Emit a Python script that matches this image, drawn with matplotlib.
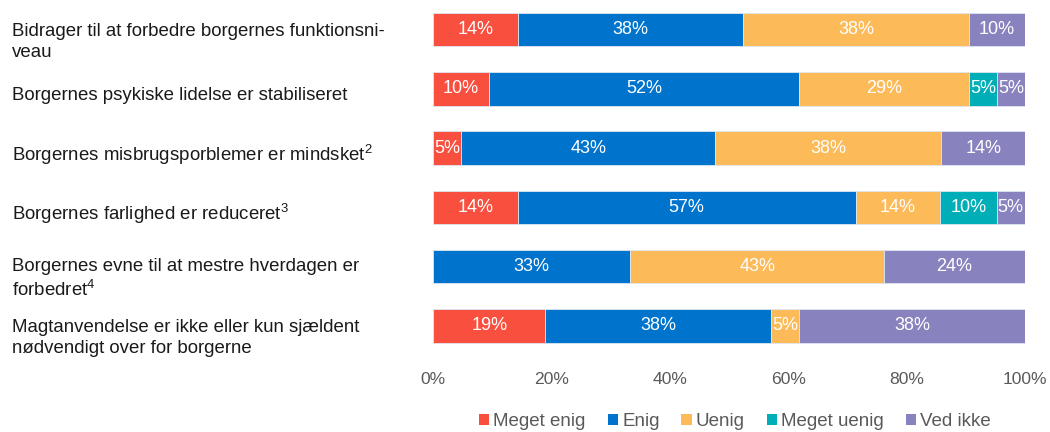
import matplotlib
matplotlib.use("Agg")
import matplotlib.pyplot as plt
import matplotlib.transforms as mtransforms
from matplotlib.patches import Patch
import numpy as np

plt.rcParams["font.family"] = ["Liberation Sans", "DejaVu Sans"]
plt.rcParams["mathtext.fontset"] = "custom"
plt.rcParams["mathtext.rm"] = "Liberation Sans"
plt.rcParams["mathtext.it"] = "Liberation Sans:italic"
plt.rcParams["mathtext.bf"] = "Liberation Sans:bold"

categories = [
    "Bidrager til at forbedre borgernes funktionsni-\nveau",
    "Borgernes psykiske lidelse er stabiliseret",
    "Borgernes misbrugsporblemer er mindsket$^{2}$",
    "Borgernes farlighed er reduceret$^{3}$",
    "Borgernes evne til at mestre hverdagen er\nforbedret$^{4}$",
    "Magtanvendelse er ikke eller kun sjældent\nnødvendigt over for borgerne",
]
series = ["Meget enig", "Enig", "Uenig", "Meget uenig", "Ved ikke"]

# Share of answers (%) per statement
meget_enig  = [14.3, 9.5, 4.8, 14.3, 0.0, 19.0]
enig        = [38.1, 52.4, 42.9, 57.1, 33.3, 38.1]
uenig       = [38.1, 28.6, 38.1, 14.3, 42.9, 4.8]
meget_uenig = [0.0, 4.8, 0.0, 9.5, 0.0, 0.0]
ved_ikke    = [9.5, 4.8, 14.3, 4.8, 23.8, 38.1]

colors = ["#F94F3F", "#0074CC", "#FDBA59", "#00AEB8", "#8882BE"]
xticks = [0, 20, 40, 60, 80, 100]
xticklabels = ["0%", "20%", "40%", "60%", "80%", "100%"]

data = [meget_enig, enig, uenig, meget_uenig, ved_ikke]

fig = plt.figure(figsize=(10.5, 4.32), dpi=100)
ax = fig.add_axes([0.4124, 0.177, 0.5638, 0.823])

y = np.arange(len(categories))
left = np.zeros(len(categories))
for vals, col, name in zip(data, colors, series):
    vals = np.array(vals)
    ax.barh(y, vals, left=left, height=0.565, color=col,
            edgecolor="#DDE6F2", linewidth=0.6, label=name)
    for yi, v, l in zip(y, vals, left):
        if v > 0:
            ax.text(l + v / 2, yi, f"{v:.0f}%", ha="center", va="center",
                    color="white", fontsize=13)
    left += vals

ax.set_xlim(0, 100)
ax.set_ylim(len(categories) - 0.5, -0.5)
ax.set_xticks(xticks)
ax.set_xticklabels(xticklabels, fontsize=12.6, color="#595959")
ax.tick_params(axis="x", length=0, pad=12)
ax.set_yticks([])
for s in ax.spines.values():
    s.set_visible(False)

# Statement labels, left aligned at the figure margin, sitting slightly low
trans = mtransforms.blended_transform_factory(fig.transFigure, ax.transData)
for yi, cat in zip(y, categories):
    nlines = cat.count("\n") + 1
    shift_px = 7 + 5 * (nlines - 1)
    off = mtransforms.ScaledTranslation(0, -shift_px / 100, fig.dpi_scale_trans)
    ax.text(0.0114, yi, cat, transform=trans + off, ha="left", va="center",
            fontsize=13.4, color="#1A1A1A", linespacing=1.3)

handles = [Patch(facecolor=c, edgecolor="none") for c in colors]
fig.legend(handles, series, loc="center", bbox_to_anchor=(0.70, 0.024),
           ncol=5, frameon=False, fontsize=13.5, handlelength=0.55,
           handleheight=0.55, handletextpad=0.22, columnspacing=1.17,
           labelcolor="#595959", borderpad=0)

fig.savefig("out.png", dpi=100)
